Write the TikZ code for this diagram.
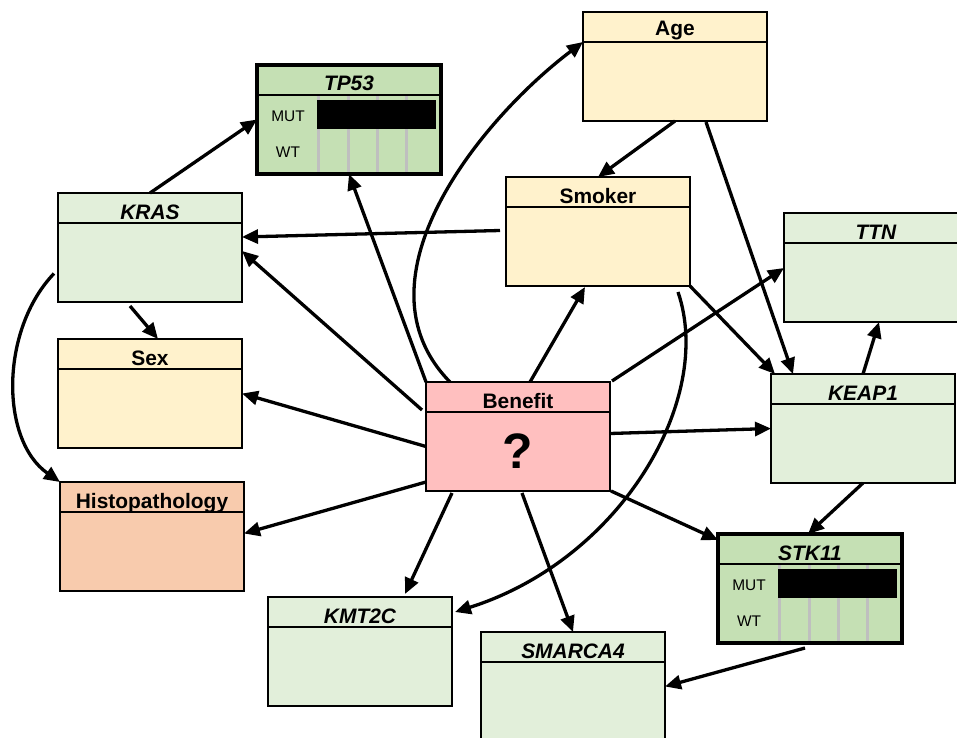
\documentclass[tikz,border=0pt]{standalone}
\usepackage{fontspec}
\setmainfont{Liberation Sans}
\usetikzlibrary{arrows.meta,calc}
\definecolor{gLight}{HTML}{E2EFDA}
\definecolor{gDark}{HTML}{C5E0B4}
\definecolor{yelF}{HTML}{FFF2CC}
\definecolor{pinkF}{HTML}{FFBFBF}
\definecolor{peachF}{HTML}{F8CBAD}
\definecolor{grayL}{HTML}{BFBFBF}
\newcommand\mkbox[9]{%
  \node[#4, fill=#5] (#1) at (#2,#3) {};
  \draw[line width=#6] ($(#1.north west)+(0,30)$) -- ($(#1.north east)+(0,30)$);
  \node[#7, anchor=base] at ($(#1.north)+(0,#9)$) {#8};
}
\newcommand\mutwt[1]{%
  \foreach \dx in {61,91,120,149}
    \draw[grayL, line width=3bp] ($(#1.north west)+(\dx,31)$) -- ($(#1.south west)+(\dx,-2)$);
  \fill ($(#1.north west)+(60,35)$) rectangle ($(#1.north west)+(179,64)$);
  \node[mutlbl] at ($(#1.north west)+(31,51)$) {MUT};
  \node[mutlbl] at ($(#1.north west)+(31,87)$) {WT};
}
\begin{document}
\begin{tikzpicture}[x=1bp,y=-1bp,
  vb/.style={draw, line width=1.8bp, minimum width=184bp, minimum height=109bp,
    inner sep=0pt, outer sep=0pt, anchor=north west},
  tb/.style={vb, line width=4bp},
  hdr/.style={font=\fontsize{21}{21}\selectfont\bfseries, inner sep=0pt},
  ghdr/.style={font=\fontsize{21}{21}\selectfont\bfseries\itshape, inner sep=0pt},
  mutlbl/.style={font=\fontsize{15.5}{15.5}\selectfont, inner sep=0pt},
  arr/.style={line width=3.3bp, -{Triangle[length=16bp,width=14bp]}}]
\useasboundingbox (0,0) rectangle (957,738);
\clip (0,0) rectangle (957,738);

\mkbox{age}{583}{12}{vb}{yelF}{1.8bp}{hdr}{Age}{24}
\mkbox{tp53}{257}{65}{tb}{gDark}{2.5bp}{ghdr}{TP53}{26}
\mutwt{tp53}
\mkbox{kras}{58}{193}{vb}{gLight}{1.8bp}{ghdr}{KRAS}{26}
\mkbox{smoker}{506}{177}{vb}{yelF}{1.8bp}{hdr}{Smoker}{26}
\mkbox{ttn}{784}{213}{vb}{gLight}{1.8bp}{ghdr}{TTN}{26}
\mkbox{sex}{58}{339}{vb}{yelF}{1.8bp}{hdr}{Sex}{26}
\mkbox{benefit}{426}{382}{vb}{pinkF}{1.8bp}{hdr}{Benefit}{26}
\node[font=\fontsize{50}{50}\selectfont\bfseries, inner sep=0pt] (q) at ($(benefit.center)+(0,15)$) {?};
\mkbox{keap1}{771}{374}{vb}{gLight}{1.8bp}{ghdr}{KEAP1}{26}
\mkbox{hist}{60}{482}{vb}{peachF}{1.8bp}{hdr}{Histopathology}{26}
\mkbox{stk11}{718}{534}{tb}{gDark}{2.5bp}{ghdr}{STK11}{26}
\mutwt{stk11}
\mkbox{kmt2c}{268}{597}{vb}{gLight}{1.8bp}{ghdr}{KMT2C}{26}
\mkbox{smarca4}{481}{632}{vb}{gLight}{1.8bp}{ghdr}{SMARCA4}{26}

\draw[arr] (kras.north) -- (tp53.west);
\draw[arr] (benefit.north west) -- (tp53.south);
\draw[arr] ($(smoker.west)+(-6,-1)$) -- ($(kras.north east)+(0,44)$);
\draw[arr] ($(benefit.north west)+(-4,28)$) -- ($(kras.north east)+(0,58)$);
\draw[arr] ($(kras.south)+(-20,4)$) -- ($(sex.north)+(8,0)$);
\draw[arr] ($(kras.west)+(-4,26)$) .. controls (0,330) and (0,440) .. (hist.north west);
\draw[arr] ($(benefit.west)+(0,10)$) -- (sex.east);
\draw[arr] ($(benefit.south west)+(0,-9)$) -- ($(hist.east)+(0,-3)$);
\draw[arr] ($(benefit.south west)+(26,2)$) -- ($(kmt2c.north)+(45,-3)$);
\draw[arr] ($(benefit.south)+(4,2)$) -- (smarca4.north);
\draw[arr] ($(benefit.south east)+(1,0)$) -- ($(stk11.north west)+(0,6)$);
\draw[arr] ($(benefit.east)+(0,-3)$) -- (keap1.west);
\draw[arr] ($(benefit.north east)+(2,-1)$) -- ($(ttn.north west)+(0,55)$);
\draw[arr] ($(benefit.north)+(12,0)$) -- ($(smoker.south)+(-13,1)$);
\draw[arr] ($(benefit.north)+(-68,0)$) .. controls (350,280) and (480,120) .. ($(age.north west)+(0,30)$);
\draw[arr] (age.south) -- (smoker.north);
\draw[arr] ($(age.south)+(31,1)$) -- ($(keap1.north west)+(22,0)$);
\draw[arr] (smoker.south east) -- ($(keap1.north west)+(4,0)$);
\draw[arr] ($(smoker.south east)+(-12,6)$) .. controls (715,400) and (620,560) .. ($(kmt2c.north east)+(3,15)$);
\draw[arr] (keap1.north) -- ($(ttn.south west)+(95,0)$);
\draw[arr] (keap1.south) -- ($(stk11.north)+(-2,0)$);
\draw[arr] ($(stk11.south)+(-5,5)$) -- (smarca4.east);
\end{tikzpicture}
\end{document}
